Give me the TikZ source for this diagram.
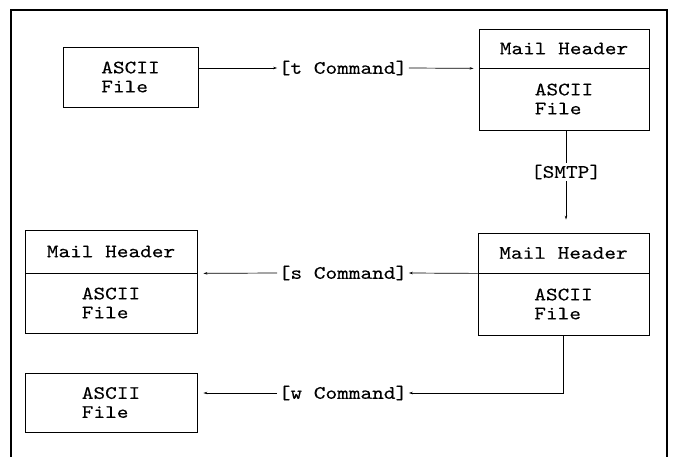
\documentclass[tikz,border=0pt]{standalone}
\usepackage{fontspec}
\setmonofont{lmmono10-regular.otf}[FakeStretch=1.17,FakeBold=0.25]
\usetikzlibrary{arrows.meta}
\begin{document}
\begin{tikzpicture}[x=1pt,y=-1pt,
  font=\ttfamily\fontsize{19}{19}\selectfont,
  box/.style={draw, line width=0.8pt, inner sep=0pt, align=left},
  lbl/.style={inner sep=1.5pt},
  tip/.style={-{Stealth[length=4pt,width=2.5pt]}},
  wire/.style={line width=0.7pt}
]
\useasboundingbox (0,0) rectangle (679,457);

% open frame round the figure
\draw[line width=1.6pt] (11,457) -- (11,10) -- (667,10) -- (667,457);

% plain file, top left
\node[box, minimum width=135pt, minimum height=60pt] (src) at (130.5,77) {ASCII\\File};

% message with header, top right
\node[box, minimum width=170pt, minimum height=39pt] (hdr2) at (564,48.5) {Mail Header};
\node[box, minimum width=170pt, minimum height=62pt] (body2) at (564,99) {ASCII\\File};

% delivered message, middle right
\node[box, minimum width=171pt, minimum height=40pt] (hdr3) at (563.5,253) {Mail Header};
\node[box, minimum width=171pt, minimum height=62pt] (body3) at (563.5,304) {ASCII\\File};

% saved message, middle left
\node[box, minimum width=172pt, minimum height=43pt] (hdr4) at (111,251.5) {Mail Header};
\node[box, minimum width=172pt, minimum height=60pt] (body4) at (111,303) {ASCII\\File};

% written file, bottom left
\node[box, minimum width=172pt, minimum height=59pt] (dst) at (111,402.5) {ASCII\\File};

% command labels
\node[lbl] (tcmd) at (343,68) {[t Command]};
\node[lbl] (smtp) at (566,172) {[SMTP]};
\node[lbl] (scmd) at (343,273) {[s Command]};
\node[lbl] (wcmd) at (343,393) {[w Command]};

% connectors
\draw[wire,tip] (src.east |- tcmd) -- (tcmd.west);
\draw[wire,tip,shorten >=5pt] (tcmd.east) -- (hdr2.south west);
\draw[wire] (body2.south -| smtp) -- (smtp.north);
\draw[wire,tip,shorten >=13pt] (smtp.south) -- (smtp.south |- hdr3.north);
\draw[wire,tip] (hdr3.south west) -- (scmd.east);
\draw[wire,tip,shorten >=6pt] (scmd.west) -- (hdr4.south east);
\draw[wire,tip] (body3.south) |- (wcmd.east);
\draw[wire,tip,shorten >=6pt] (wcmd.west) -- (dst.east |- wcmd);
\end{tikzpicture}
\end{document}
